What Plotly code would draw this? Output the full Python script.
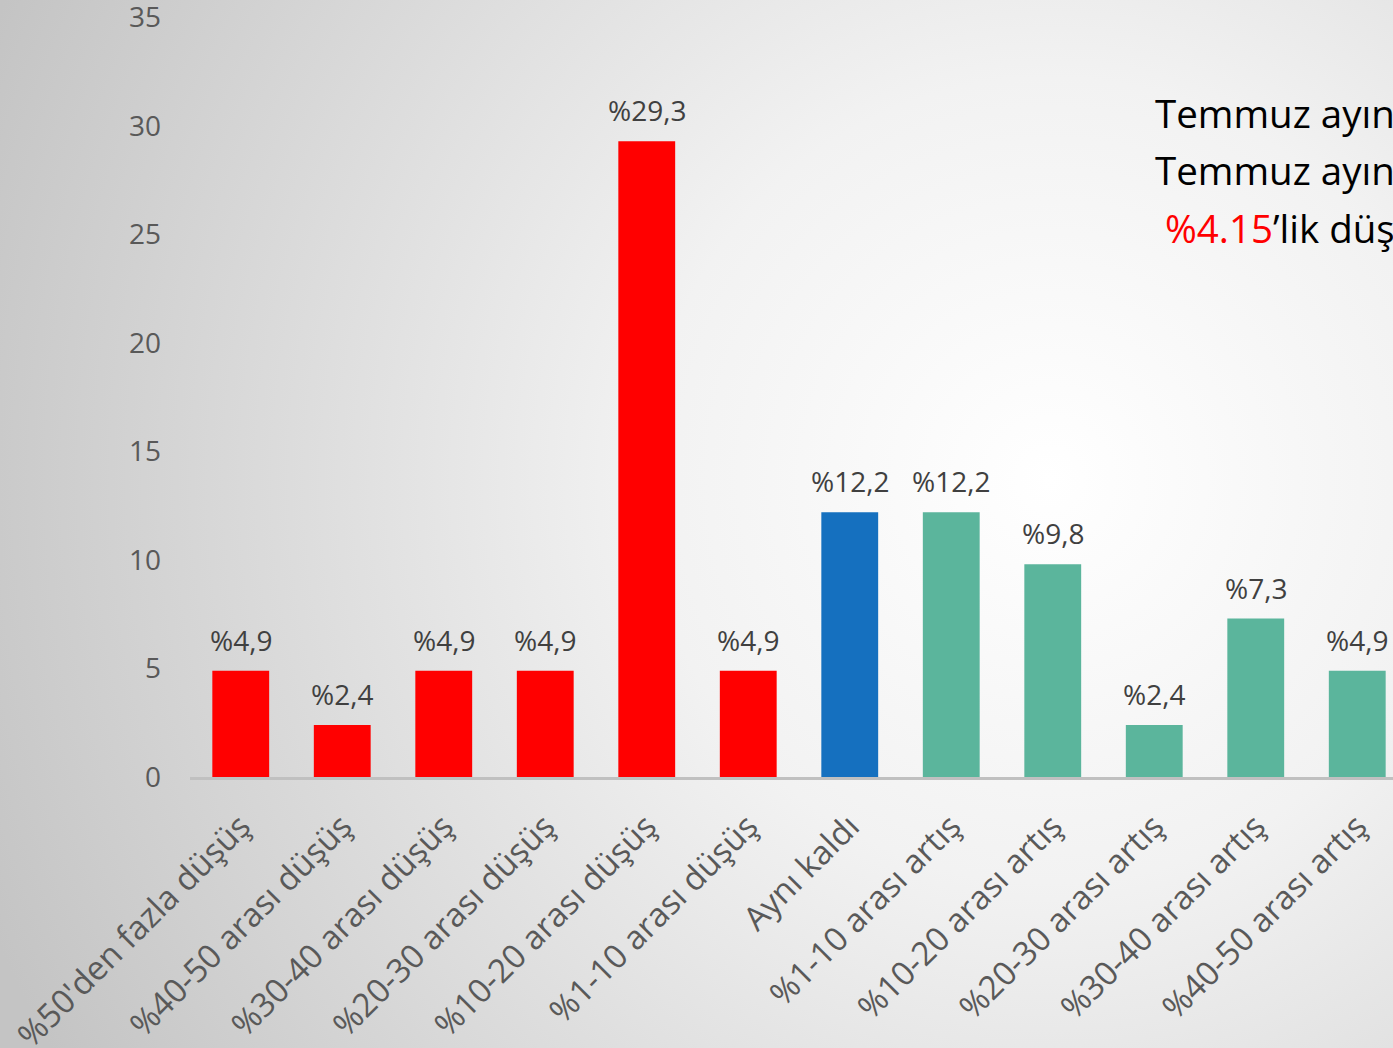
import base64
import plotly.graph_objects as go

categories = [
    "%50'den fazla düşüş", "%40-50 arası düşüş", "%30-40 arası düşüş",
    "%20-30 arası düşüş", "%10-20 arası düşüş", "%1-10 arası düşüş",
    "Aynı kaldı", "%1-10 arası artış", "%10-20 arası artış",
    "%20-30 arası artış", "%30-40 arası artış", "%40-50 arası artış",
]
values = [4.9, 2.4, 4.9, 4.9, 29.3, 4.9, 12.2, 12.2, 9.8, 2.4, 7.3, 4.9]
bar_colors = ["#FF0000"] * 6 + ["#1570BF"] + ["#5BB59C"] * 5
y_ticks = [0, 5, 10, 15, 20, 25, 30, 35]
note_lines = ["Temmuz ayında", "Temmuz ayında"]
note_red = "%4.15"
note_tail = "’lik düşüş"

W, H = 1393, 1048
FONT = "Open Sans, Noto Sans, DejaVu Sans, sans-serif"

svg = f"""<svg xmlns='http://www.w3.org/2000/svg' width='{W}' height='{H}' viewBox='0 0 {W} {H}' preserveAspectRatio='none'>
<defs><radialGradient id='g' gradientUnits='userSpaceOnUse' cx='1050' cy='480' r='1150'>
<stop offset='0' stop-color='#ffffff'/><stop offset='0.35' stop-color='#f2f2f2'/>
<stop offset='1' stop-color='#c4c4c4'/></radialGradient></defs>
<rect width='{W}' height='{H}' fill='url(#g)'/></svg>"""
bg_uri = "data:image/svg+xml;base64," + base64.b64encode(svg.encode()).decode()

x_left, x_right = 190, W
y_bot = 777
unit_px = 21.7
y_max = 35.4
y_top = y_bot - y_max * unit_px
slot = 101.5
x0 = -0.5
x1 = x0 + (x_right - x_left) / slot

fig = go.Figure()
fig.add_trace(go.Bar(
    x=list(range(len(categories))), y=values,
    marker=dict(color=bar_colors, line=dict(width=0)),
    width=0.56, hoverinfo="skip",
))

labels = ["%" + f"{v:.1f}".replace(".", ",") for v in values]
for i, (v, t) in enumerate(zip(values, labels)):
    fig.add_annotation(x=i, y=v, text=t, showarrow=False, xref="x", yref="y",
                       yanchor="bottom", yshift=10,
                       font=dict(family=FONT, size=28, color="#404040"))

line_y = [130, 187]
for ly, txt in zip(line_y, note_lines):
    fig.add_annotation(x=1153 / W, y=1 - ly / H, xref="paper", yref="paper",
                       text=txt, showarrow=False, xanchor="left", yanchor="bottom",
                       yshift=-11, font=dict(family=FONT, size=38.5, color="#000000"))
fig.add_annotation(x=1163 / W, y=1 - 245 / H, xref="paper", yref="paper",
                   text=f"<span style='color:#FF0000'>{note_red}</span>{note_tail}",
                   showarrow=False, xanchor="left", yanchor="bottom", yshift=-11,
                   font=dict(family=FONT, size=38.5, color="#000000"))

fig.add_layout_image(dict(source=bg_uri, xref="paper", yref="paper", x=0, y=1,
                          sizex=1, sizey=1, sizing="stretch", layer="below",
                          xanchor="left", yanchor="top"))

fig.update_layout(
    width=W, height=H,
    margin=dict(l=0, r=0, t=0, b=0, autoexpand=False),
    paper_bgcolor="rgba(0,0,0,0)", plot_bgcolor="rgba(0,0,0,0)",
    showlegend=False,
    font=dict(family=FONT, color="#595959"),
    xaxis=dict(domain=[x_left / W, 1], range=[x0, x1], automargin=False,
               tickmode="array", tickvals=list(range(len(categories))),
               ticktext=categories, tickangle=-45,
               tickfont=dict(family=FONT, size=33, color="#595959"),
               showline=True, linecolor="#C0C0C0", linewidth=2.5,
               showgrid=False, zeroline=False, ticks="", ticklabelstandoff=14,
               ticklabeloverflow="allow"),
    yaxis=dict(domain=[(H - y_bot) / H, 1 - y_top / H], range=[0, y_max],
               automargin=False,
               tickmode="array", tickvals=y_ticks,
               tickfont=dict(family=FONT, size=28, color="#595959"),
               showgrid=False, zeroline=False, showline=False, ticks="",
               ticklabelstandoff=28, ticklabeloverflow="allow"),
)

fig.write_html("out.html", config={"displayModeBar": False},
               post_script="document.body.style.margin='0';document.body.style.overflow='hidden';")
